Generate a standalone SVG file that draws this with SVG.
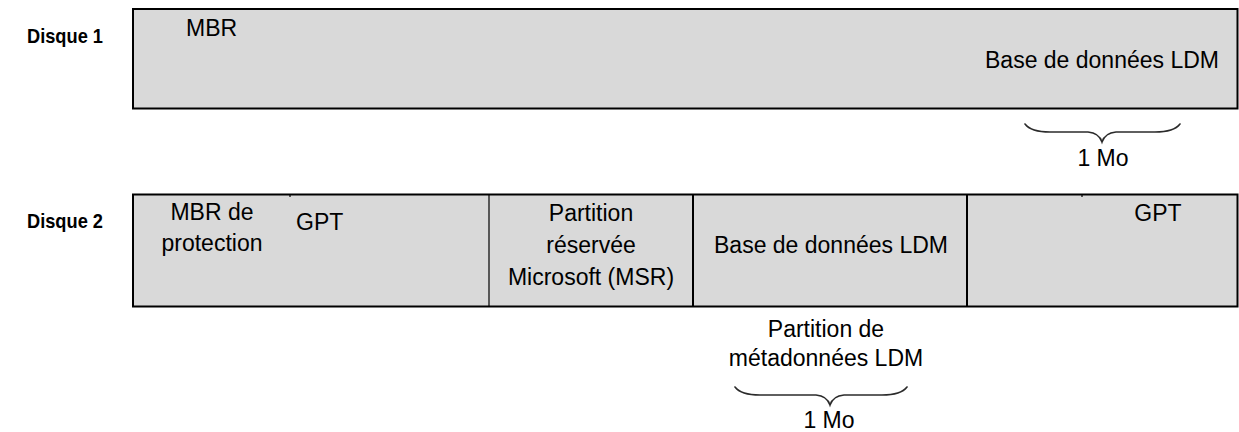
<svg xmlns="http://www.w3.org/2000/svg" width="1239" height="432" viewBox="0 0 1239 432">
<style>
text{font-family:"Liberation Sans",Arial,sans-serif;font-size:23px;fill:#000}
.lbl{font-weight:bold;font-size:21px}
.c{text-anchor:middle}
.box{fill:#d9d9d9;stroke:#000;stroke-width:2}
.div{stroke:#000;stroke-width:2}
.thin{stroke:#000;stroke-width:1.2}
.brace{fill:none;stroke:#2b2b2b;stroke-width:1.6;stroke-linecap:round}
</style>
<rect width="1239" height="432" fill="#fff"/>
<g id="disk1-label"><text class="lbl" x="27" y="43" textLength="76" lengthAdjust="spacingAndGlyphs">Disque 1</text></g>
<g id="disk1">
<rect class="box" x="133" y="9" width="1104.5" height="99.5"/>
<text x="186" y="36">MBR</text>
<text x="985" y="68">Base de données LDM</text>
</g>
<g id="disk2-label"><text class="lbl" x="27" y="228" textLength="76" lengthAdjust="spacingAndGlyphs">Disque 2</text></g>
<g id="disk2">
<rect class="box" x="133" y="194.5" width="1104.5" height="112"/>
<line class="thin" x1="290" y1="194" x2="290" y2="197"/>
<line class="thin" x1="1082" y1="194" x2="1082" y2="197"/>
</g>
<g id="disk2-mbr">
<text class="c" x="212" y="220">MBR de</text>
<text class="c" x="212" y="251">protection</text>
<text x="296" y="230">GPT</text>
</g>
<g id="disk2-msr">
<line class="thin" x1="489" y1="194.5" x2="489" y2="306.5"/>
<text class="c" x="591" y="221">Partition</text>
<text class="c" x="591" y="253">réservée</text>
<text class="c" x="591" y="285">Microsoft (MSR)</text>
</g>
<g id="disk2-ldm">
<line class="div" x1="693" y1="194.5" x2="693" y2="306.5"/>
<text class="c" x="831" y="253">Base de données LDM</text>
</g>
<g id="disk2-gpt">
<line class="div" x1="967" y1="194.5" x2="967" y2="306.5"/>
<text class="c" x="1158" y="221">GPT</text>
</g>
<g id="ldm-meta-label">
<text class="c" x="826" y="337">Partition de</text>
<text class="c" x="826" y="366">métadonnées LDM</text>
</g>
<g id="braces">
<path class="brace" d="M1025,124 Q1031,132 1050,132 L1088,132 Q1099,133 1102,142 Q1105,133 1116,132 L1155,132 Q1174,132 1180,124"/>
<path class="brace" d="M735,387 Q741,395 760,395 L816,395 Q827,396 830,405 Q833,396 844,395 L882,395 Q901,395 907,387"/>
</g>
<g id="size-labels">
<text class="c" x="1103" y="166">1 Mo</text>
<text class="c" x="829" y="428">1 Mo</text>
</g>
</svg>
